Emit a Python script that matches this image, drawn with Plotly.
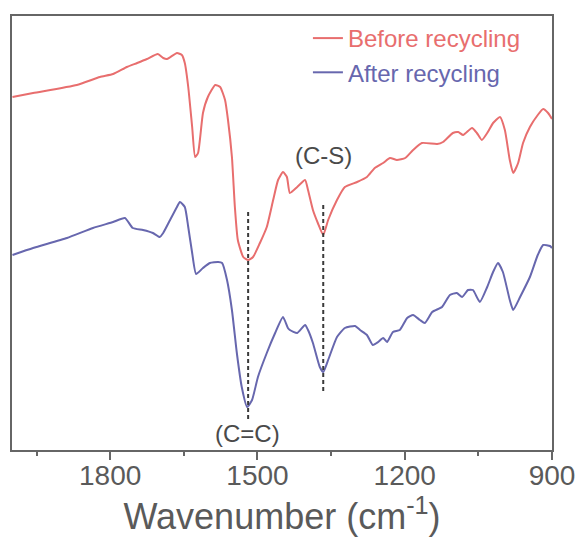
import plotly.graph_objects as go

# Wavenumbers (cm^-1) and intensities (a.u.)
before_wn = [1999, 1957, 1868, 1821, 1794, 1766, 1745, 1725, 1703, 1692, 1684, 1664, 1654, 1648,
             1641, 1633, 1627, 1621, 1611, 1601, 1586, 1576, 1566, 1560, 1552, 1546, 1540, 1529,
             1519, 1509, 1495, 1481, 1468, 1458, 1448, 1440, 1434, 1419, 1403, 1397, 1387, 1377,
             1366, 1356, 1338, 1322, 1297, 1277, 1261, 1244, 1230, 1216, 1199, 1183, 1165, 1134,
             1122, 1102, 1091, 1081, 1063, 1053, 1043, 1032, 1020, 1006, 996, 986, 979, 969, 959,
             945, 929, 918, 908, 900]
before_val = [353, 357, 365, 373, 376, 383, 387, 391, 396, 392, 391, 397, 395, 387,
              363, 323, 293, 297, 337, 353, 365, 363, 350, 330, 293, 243, 210, 193,
              190, 193, 207, 223, 250, 270, 278, 273, 257, 263, 270, 260, 240, 227,
              215, 230, 250, 263, 268, 273, 282, 287, 292, 290, 292, 300, 307, 306,
              308, 317, 318, 315, 322, 317, 310, 317, 327, 333, 320, 290, 277, 287, 307,
              323, 335, 341, 337, 331]

after_wn = [1999, 1957, 1888, 1835, 1794, 1770, 1754, 1733, 1713, 1699, 1692, 1678, 1664, 1658,
            1648, 1641, 1633, 1625, 1611, 1597, 1580, 1572, 1562, 1552, 1542, 1532, 1521, 1511,
            1499, 1481, 1464, 1448, 1438, 1434, 1419, 1403, 1397, 1387, 1373, 1366, 1356, 1338,
            1322, 1301, 1291, 1277, 1265, 1254, 1244, 1236, 1224, 1210, 1195, 1183, 1169, 1159,
            1144, 1124, 1108, 1094, 1083, 1071, 1061, 1047, 1032, 1020, 1010, 1000, 986, 979,
            965, 945, 929, 918, 904, 900]
after_val = [195, 202, 212, 222, 228, 232, 222, 220, 217, 213, 217, 230, 243, 248,
             243, 223, 197, 176, 182, 187, 188, 187, 170, 140, 97, 63, 43, 50,
             73, 97, 117, 133, 122, 120, 117, 125, 120, 107, 83, 78, 90, 113,
             122, 124, 120, 115, 105, 108, 112, 108, 118, 120, 132, 135, 130, 127,
             138, 143, 155, 157, 153, 160, 160, 148, 163, 178, 187, 178, 150, 140,
             153, 173, 195, 205, 204, 202]

# Marker lines (C=C) and (C-S)
cc_wn = [1519, 1519]
cc_val = [238, 30]
cs_wn = [1366, 1366]
cs_val = [245, 58]

tick_vals = [1800, 1500, 1200, 900]
tick_text = ["1800", "1500", "1200", "900"]

RED = "#E86E6E"
BLUE = "#6767AE"
GRAY = "#5a5a5a"

fig = go.Figure()
fig.add_trace(go.Scatter(x=before_wn, y=before_val, mode="lines",
                         line=dict(color=RED, width=2, shape="spline", smoothing=0.5),
                         name=f"<span style='color:{RED}'>Before recycling</span>"))
fig.add_trace(go.Scatter(x=after_wn, y=after_val, mode="lines",
                         line=dict(color=BLUE, width=2, shape="spline", smoothing=0.5),
                         name=f"<span style='color:{BLUE}'>After recycling</span>"))
for xs, ys in [(cc_wn, cc_val), (cs_wn, cs_val)]:
    fig.add_trace(go.Scatter(x=xs, y=ys, mode="lines", showlegend=False,
                             line=dict(color="#3a3a3a", width=2, dash="4px,3px")))

fig.add_annotation(x=1366, y=295, text="(C-S)", showarrow=False,
                   font=dict(size=24, color="#4a4a4a"))
fig.add_annotation(x=1521, y=17, text="(C=C)", showarrow=False,
                   font=dict(size=24, color="#4a4a4a"))

fig.update_layout(
    width=578, height=541,
    margin=dict(l=12, r=26, t=16, b=91, autoexpand=False),
    paper_bgcolor="white", plot_bgcolor="white",
    font=dict(family="Liberation Sans, Arial, sans-serif", color=GRAY),
    showlegend=True,
    legend=dict(x=0.548, y=1.0, xanchor="left", yanchor="top",
                bgcolor="rgba(0,0,0,0)", font=dict(size=24), tracegroupgap=0,
                itemwidth=30),
)
fig.update_xaxes(range=[2000, 900], tickvals=tick_vals, ticktext=tick_text,
                 automargin=False,
                 ticks="outside", ticklen=8, tickwidth=1.5, tickcolor="#666",
                 ticklabelstandoff=-8,
                 minor=dict(ticks="outside", ticklen=4, tickwidth=1.5, tickcolor="#666",
                            dtick=150, tick0=900),
                 showline=True, linecolor="#666", linewidth=1.5, mirror=True,
                 showgrid=False, zeroline=False,
                 tickfont=dict(size=28, color=GRAY),
                 title=dict(text="Wavenumber (cm<sup>-1</sup>)", font=dict(size=36, color=GRAY),
                            standoff=6))
fig.update_yaxes(range=[0, 434], showticklabels=False, ticks="", automargin=False,
                 showline=True, linecolor="#666", linewidth=1.5, mirror=True,
                 showgrid=False, zeroline=False)

fig.write_html("out.html")
